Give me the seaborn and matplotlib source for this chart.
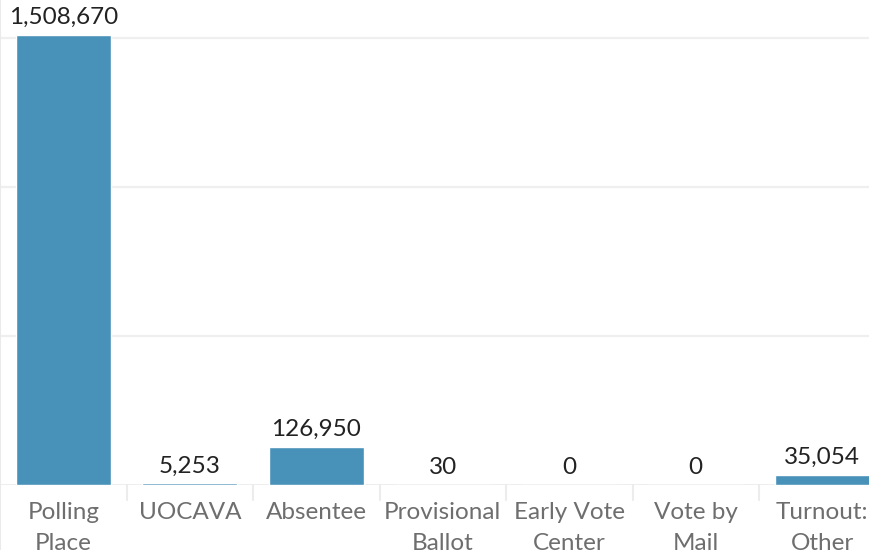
import matplotlib
matplotlib.use("Agg")
import matplotlib.pyplot as plt
import seaborn as sns
import pandas as pd

# ballots cast by method
methods = ["Polling\nPlace", "UOCAVA", "Absentee", "Provisional\nBallot",
           "Early Vote\nCenter", "Vote by\nMail", "Turnout:\nOther"]
ballots = [1508670, 5253, 126950, 30, 0, 0, 35054]

df = pd.DataFrame({"method": methods, "ballots": ballots})

sns.set_style("white")
plt.rcParams["font.family"] = ["Lato", "DejaVu Sans"]

fig = plt.figure(figsize=(8.7, 5.5), dpi=100)
ax = fig.add_axes([0, 65 / 550, 1, 485 / 550])

sns.barplot(data=df, x="method", y="ballots", color="#4891b9",
            saturation=1, width=0.75, ax=ax)

ax.set_xlim(-0.5, 6.377)
ax.set_ylim(0, 1627000)
ax.set_yticks([500000, 1000000, 1500000])
ax.set_yticklabels([])
ax.tick_params(axis="y", length=0)
ax.yaxis.grid(True, color="#efefef", linewidth=1.6)
ax.set_axisbelow(True)

for s in ["top", "right", "bottom"]:
    ax.spines[s].set_visible(False)
ax.spines["left"].set_color("#eaeaea")
ax.spines["left"].set_linewidth(1.5)
ax.axhline(0, color="#ececec", linewidth=2, zorder=0)

# category dividers below baseline
for i in range(len(methods)):
    ax.plot([i + 0.5, i + 0.5], [0, -0.03], transform=ax.get_xaxis_transform(),
            color="#ececec", linewidth=1.5, clip_on=False)
ax.plot([-0.5, -0.5], [0, -0.2], transform=ax.get_xaxis_transform(),
        color="#eaeaea", linewidth=1.5, clip_on=False)

ax.set_xlabel("")
ax.set_ylabel("")
ax.tick_params(axis="x", length=0, pad=12, labelsize=17.5, labelcolor="#6e6e6e")
for lbl in ax.get_xticklabels():
    lbl.set_linespacing(1.6)

for i, v in enumerate(ballots):
    ax.annotate(f"{v:,}", (i, v), xytext=(0, 5), textcoords="offset points",
                ha="center", va="bottom", fontsize=17.5, color="#222222")

fig.savefig("out.png", dpi=100)
